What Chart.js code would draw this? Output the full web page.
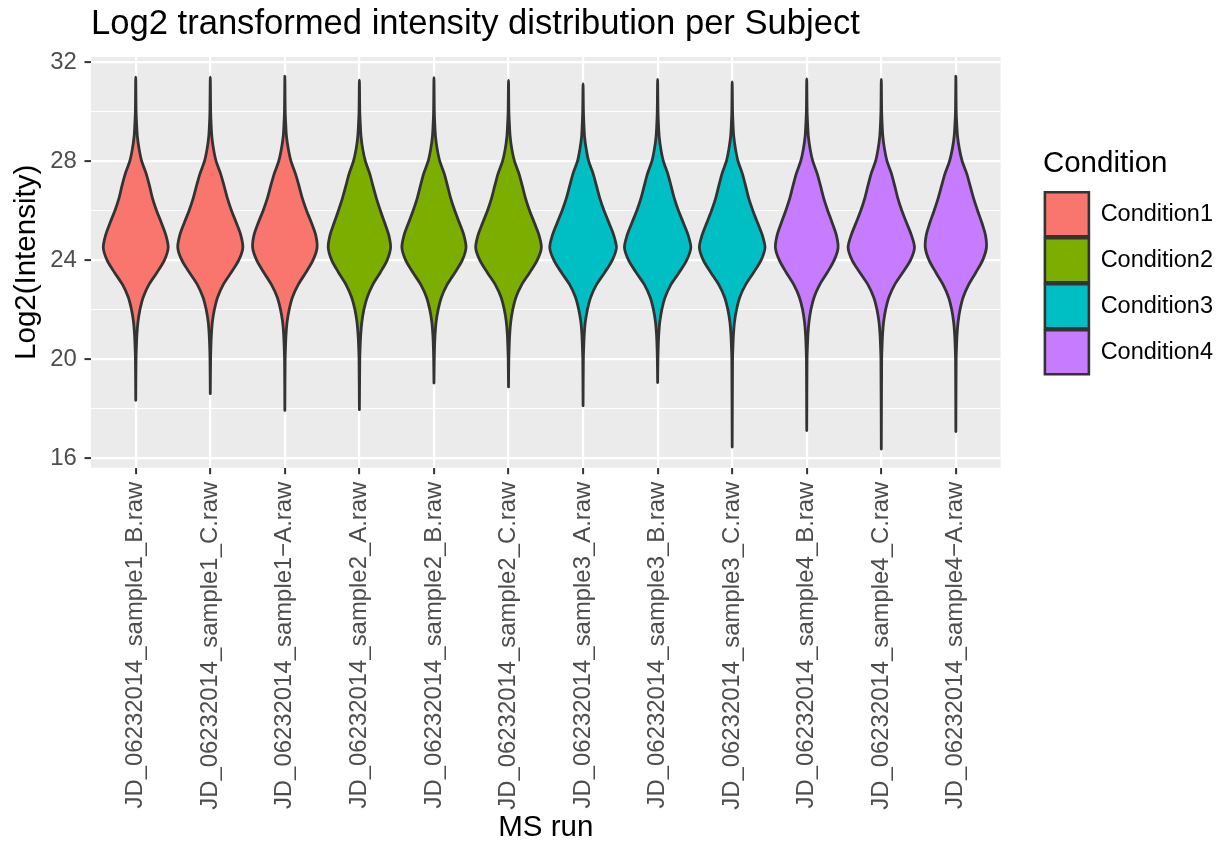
<!DOCTYPE html>
<html>
<head>
<meta charset="utf-8">
<title>Log2 transformed intensity distribution per Subject</title>
<script src="https://cdn.jsdelivr.net/npm/chart.js@4.4.1/dist/chart.umd.min.js"></script>
<style>
  html, body { margin: 0; padding: 0; background: #ffffff; }
  #wrap { width: 1228px; height: 843px; }
</style>
</head>
<body>
<div id="wrap"><canvas id="violins" width="1228" height="843"></canvas></div>
<script>
    // one violin per MS run, coloured by condition
    const sampleNames = [
        'JD_06232014_sample1_B.raw', 'JD_06232014_sample1_C.raw', 'JD_06232014_sample1\u2212A.raw',
        'JD_06232014_sample2_A.raw', 'JD_06232014_sample2_B.raw', 'JD_06232014_sample2_C.raw',
        'JD_06232014_sample3_A.raw', 'JD_06232014_sample3_B.raw', 'JD_06232014_sample3_C.raw',
        'JD_06232014_sample4_B.raw', 'JD_06232014_sample4_C.raw', 'JD_06232014_sample4\u2212A.raw'
    ];
    const sampleCondition = [0, 0, 0, 1, 1, 1, 2, 2, 2, 3, 3, 3];
    const conditionNames = ['Condition1', 'Condition2', 'Condition3', 'Condition4'];
    const conditionColors = ['#F8766D', '#7CAE00', '#00BFC4', '#C77CFF'];
    const yTicks = [16, 18, 20, 22, 24, 26, 28, 30, 32];

    // lowest and highest log2 intensity of each run (ends of the thin tails)
    const tailMin = [18.33, 18.60, 17.92, 17.95, 19.03, 18.87, 18.11, 19.05, 16.44, 17.11, 16.36, 17.07];
    const tailMax = [31.40, 31.40, 31.44, 31.28, 31.38, 31.27, 31.13, 31.31, 31.21, 31.33, 31.31, 31.44];

    // intensity levels where the violin half-width was read (in category units)
    const bodyLevels = [20, 20.5, 21, 21.5, 22, 22.5, 23, 23.5, 24, 24.5, 25, 25.5, 26, 26.5, 27, 27.5, 28, 28.5, 29, 29.5, 30];
    const widthS1B = [0.004, 0.009, 0.016, 0.030, 0.057, 0.100, 0.175, 0.285, 0.385, 0.435, 0.405, 0.345, 0.280, 0.225, 0.185, 0.140, 0.080, 0.045, 0.022, 0.012, 0.005];
    const widthS1C = [0.004, 0.008, 0.015, 0.028, 0.055, 0.098, 0.172, 0.280, 0.382, 0.436, 0.410, 0.350, 0.285, 0.230, 0.185, 0.138, 0.078, 0.043, 0.021, 0.011, 0.005];
    const widthS1A = [0.004, 0.009, 0.016, 0.030, 0.058, 0.102, 0.178, 0.282, 0.378, 0.432, 0.415, 0.358, 0.292, 0.235, 0.190, 0.142, 0.082, 0.046, 0.022, 0.012, 0.005];
    const widthS2A = [0.005, 0.010, 0.018, 0.033, 0.060, 0.105, 0.178, 0.280, 0.372, 0.418, 0.395, 0.340, 0.282, 0.228, 0.182, 0.138, 0.080, 0.044, 0.022, 0.012, 0.005];
    const widthS2B = [0.004, 0.008, 0.015, 0.029, 0.056, 0.100, 0.175, 0.282, 0.380, 0.430, 0.402, 0.342, 0.280, 0.225, 0.182, 0.138, 0.078, 0.043, 0.021, 0.011, 0.005];
    const widthS2C = [0.004, 0.009, 0.016, 0.030, 0.057, 0.100, 0.176, 0.285, 0.385, 0.440, 0.410, 0.348, 0.283, 0.228, 0.185, 0.140, 0.080, 0.044, 0.022, 0.012, 0.005];
    const widthS3A = [0.004, 0.009, 0.016, 0.030, 0.058, 0.102, 0.178, 0.290, 0.392, 0.447, 0.412, 0.348, 0.282, 0.225, 0.180, 0.135, 0.075, 0.042, 0.020, 0.011, 0.005];
    const widthS3B = [0.004, 0.008, 0.015, 0.029, 0.056, 0.100, 0.176, 0.288, 0.390, 0.445, 0.410, 0.346, 0.280, 0.224, 0.180, 0.136, 0.077, 0.043, 0.021, 0.011, 0.005];
    const widthS3C = [0.005, 0.010, 0.017, 0.031, 0.058, 0.102, 0.178, 0.287, 0.388, 0.440, 0.405, 0.342, 0.278, 0.222, 0.180, 0.136, 0.078, 0.044, 0.021, 0.011, 0.005];
    const widthS4B = [0.004, 0.009, 0.016, 0.030, 0.056, 0.099, 0.172, 0.275, 0.368, 0.420, 0.398, 0.342, 0.282, 0.228, 0.185, 0.140, 0.081, 0.045, 0.022, 0.012, 0.005];
    const widthS4C = [0.005, 0.010, 0.017, 0.031, 0.058, 0.102, 0.178, 0.288, 0.392, 0.445, 0.405, 0.340, 0.276, 0.222, 0.180, 0.136, 0.077, 0.043, 0.021, 0.011, 0.005];
    const widthS4A = [0.004, 0.009, 0.016, 0.030, 0.056, 0.098, 0.170, 0.268, 0.360, 0.410, 0.398, 0.350, 0.292, 0.238, 0.192, 0.146, 0.085, 0.047, 0.023, 0.012, 0.005];
    const halfWidths = [widthS1B, widthS1C, widthS1A, widthS2A, widthS2B, widthS2C,
                        widthS3A, widthS3B, widthS3C, widthS4B, widthS4C, widthS4A];

    Chart.defaults.font.family = "'Liberation Sans', Arial, sans-serif";

    // closed outline: up the right side, back down the left side
    function violinOutline(i) {
        const levels = [tailMin[i], ...bodyLevels, tailMax[i]];
        const widths = [0, ...halfWidths[i], 0];
        const right = levels.map((y, k) => ({ x: i + widths[k], y: y }));
        const left = levels.slice(0, -1).map((y, k) => ({ x: i - widths[k], y: y })).reverse();
        return right.concat(left);
    }

    const datasets = sampleNames.map((name, i) => ({
        label: name,
        data: violinOutline(i),
        xAxisID: 'x',
        yAxisID: 'y',
        showLine: true,
        fill: 'shape',
        backgroundColor: conditionColors[sampleCondition[i]],
        borderColor: '#333333',
        borderWidth: 2.8,
        borderJoinStyle: 'round',
        borderCapStyle: 'round',
        pointRadius: 0,
        tension: 0.3
    }));

    const panelBackground = {
        id: 'panelBackground',
        beforeDraw(chart) {
            const { ctx, chartArea } = chart;
            ctx.save();
            ctx.fillStyle = '#EBEBEB';
            ctx.fillRect(chartArea.left, chartArea.top, chartArea.right - chartArea.left, chartArea.bottom - chartArea.top);
            ctx.restore();
        }
    };

    const isMajor = (ctx) => ctx.tick && ctx.tick.value % 4 === 0;

    new Chart(document.getElementById('violins'), {
        type: 'scatter',
        data: { datasets: datasets },
        options: {
            responsive: false,
            animation: false,
            events: [],
            devicePixelRatio: 1,
            layout: { padding: { left: 0, right: 5, top: 0, bottom: 0 } },
            plugins: {
                tooltip: { enabled: false },
                title: {
                    display: true,
                    text: 'Log2 transformed intensity distribution per Subject',
                    align: 'start',
                    fullSize: false,
                    color: '#000000',
                    font: { size: 34.6, weight: 'normal', lineHeight: 1.2 },
                    padding: { top: 3.9, bottom: 11.6 }
                },
                legend: {
                    position: 'right',
                    align: 'center',
                    fullSize: false,
                    title: {
                        display: true,
                        text: 'Condition',
                        position: 'start',
                        color: '#000000',
                        font: { size: 29.5 },
                        padding: { top: 1, bottom: 5.5 }
                    },
                    labels: {
                        boxWidth: 44,
                        boxHeight: 44,
                        padding: 2,
                        color: '#000000',
                        font: { size: 23.5 },
                        generateLabels: () => conditionNames.map((name, c) => ({
                            text: name,
                            fillStyle: conditionColors[c],
                            strokeStyle: '#333333',
                            lineWidth: 2.6,
                            hidden: false
                        }))
                    }
                }
            },
            scales: {
                x: {
                    type: 'linear',
                    min: -0.6,
                    max: 11.6,
                    afterBuildTicks: (scale) => { scale.ticks = sampleNames.map((_, i) => ({ value: i })); },
                    afterFit: (scale) => { scale.height = 375.3; },
                    grid: { color: '#FFFFFF', lineWidth: 2.2, tickLength: 6.5, tickColor: '#333333', tickWidth: 2 },
                    border: { display: false },
                    ticks: {
                        autoSkip: false,
                        minRotation: 90,
                        maxRotation: 90,
                        padding: 7.5,
                        color: '#4D4D4D',
                        font: { size: 23.9 },
                        callback: (value) => sampleNames[value]
                    },
                    title: {
                        display: true,
                        text: 'MS run',
                        color: '#000000',
                        font: { size: 29.5, lineHeight: 1.06 },
                        padding: { top: 0, bottom: 0 }
                    }
                },
                y: {
                    type: 'linear',
                    min: 15.605,
                    max: 32.215,
                    afterBuildTicks: (scale) => { scale.ticks = yTicks.map((v) => ({ value: v })); },
                    afterFit: (scale) => { scale.width = 91; },
                    grid: {
                        color: '#FFFFFF',
                        lineWidth: (ctx) => isMajor(ctx) ? 2.2 : 1.1,
                        tickLength: 6.5,
                        tickColor: (ctx) => isMajor(ctx) ? '#333333' : 'rgba(0,0,0,0)',
                        tickWidth: 2
                    },
                    border: { display: false },
                    ticks: {
                        padding: 7.8,
                        color: '#4D4D4D',
                        font: { size: 23.9 },
                        callback: (value) => value % 4 === 0 ? String(value) : ''
                    },
                    title: {
                        display: true,
                        text: 'Log2(Intensity)',
                        color: '#000000',
                        font: { size: 29.5 },
                        padding: { top: 9, bottom: 0 }
                    }
                },
                // empty strip between the panel and the legend
                gap: {
                    type: 'linear',
                    position: 'right',
                    grid: { display: false, drawTicks: false },
                    border: { display: false },
                    ticks: { display: false },
                    afterFit: (scale) => { scale.width = 42.3; }
                }
            }
        },
        plugins: [panelBackground]
    });
</script>
</body>
</html>
